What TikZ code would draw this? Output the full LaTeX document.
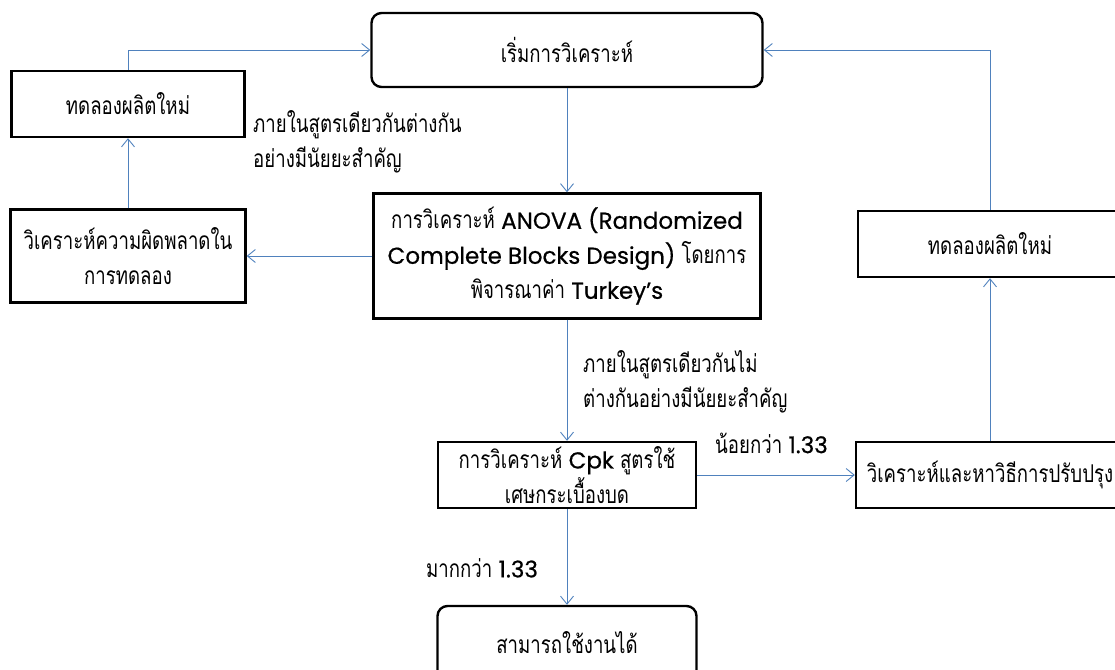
\documentclass[tikz,border=0pt]{standalone}
\usepackage{fontspec}
\usetikzlibrary{arrows.meta}
\newfontfamily\thaifont[Script=Thai,FakeStretch=0.76]{Loma}
\newfontfamily\latfont[FakeBold=0.6]{Poppins}
\newcommand{\lat}[1]{{\latfont\fontsize{23}{35}\selectfont #1}}
\definecolor{arrowblue}{HTML}{4F81BD}

\begin{document}
\begin{tikzpicture}[x=1pt,y=-1pt,
		every node/.style={font=\thaifont\fontsize{24.5}{35}\selectfont},
		block/.style={draw,line width=2.4pt,align=center,inner sep=0pt},
		terminal/.style={block,rounded corners=10pt},
		note/.style={align=left,anchor=west,inner sep=0pt},
		link/.style={draw=arrowblue,line width=0.9pt,-{Straight Barb[length=8pt,width=13pt]}}]
	\useasboundingbox (0,0) rectangle (1115,669);
	\clip (0,0) rectangle (1115,669);
	\node[terminal,minimum width=391pt,minimum height=74pt] (start) at (567,50) {เริ่มการวิเคราะห์};
	\node[block,minimum width=233pt,minimum height=66pt] (trial) at (128,104) {ทดลองผลิตใหม่};
	\node[block,minimum width=235pt,minimum height=93pt] (errors) at (128,256) {วิเคราะห์ความผิดพลาดใน\\การทดลอง};
	\node[block,minimum width=387pt,minimum height=125pt] (anova) at (567,256) {การวิเคราะห์ \lat{ANOVA (Randomized}\\\lat{Complete Blocks Design)} โดยการ\\พิจารณาค่า \lat{Turkey’s}};
	\node[block,minimum width=264pt,minimum height=66pt] (retrial) at (990,244) {ทดลองผลิตใหม่};
	\node[block,minimum width=258pt,minimum height=66pt] (cpk) at (567,475) {การวิเคราะห์ \lat{Cpk} สูตรใช้\\เศษกระเบื้องบด};
	\node[block,minimum width=268pt,minimum height=66pt] (improve) at (990,475) {วิเคราะห์และหาวิธีการปรับปรุง};
	\node[terminal,minimum width=259pt,minimum height=74pt] (usable) at (567,643) {สามารถใช้งานได้};
	\node[note] (differ) at (253,142) {ภายในสูตรเดียวกันต่างกัน\\อย่างมีนัยยะสำคัญ};
	\node[note] (same) at (583,382) {ภายในสูตรเดียวกันไม่\\ต่างกันอย่างมีนัยยะสำคัญ};
	\node[note] (less) at (715,443) {น้อยกว่า \lat{1.33}};
	\node[note] (more) at (426,568) {มากกว่า \lat{1.33}};
	\draw[link] (start) -- (anova);
	\draw[link] (anova) -- (errors);
	\draw[link] (errors) -- (trial);
	\draw[link] (trial.north) |- (start.west);
	\draw[link] (anova) -- (cpk);
	\draw[link] (cpk) -- (improve);
	\draw[link] (improve) -- (retrial);
	\draw[link] (retrial.north) |- (start.east);
	\draw[link] (cpk) -- (usable);
\end{tikzpicture}
\end{document}
